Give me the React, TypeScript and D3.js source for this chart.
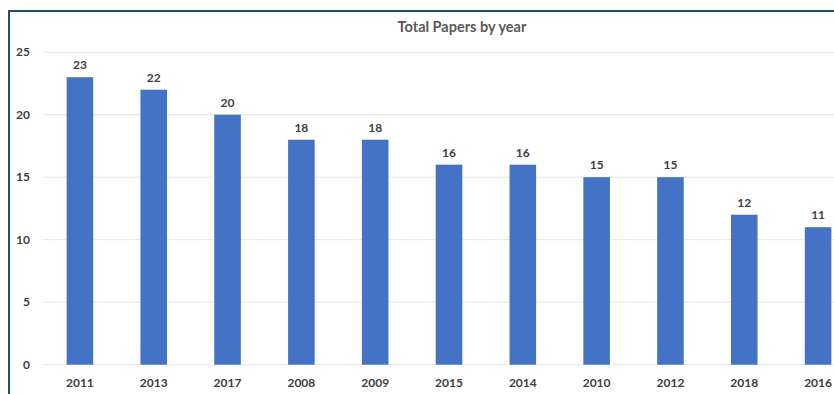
import React from "react";
import * as d3 from "d3";

const years = ["2011", "2013", "2017", "2008", "2009", "2015", "2014", "2010", "2012", "2018", "2016"];
const papers = [23, 22, 20, 18, 18, 16, 16, 15, 15, 12, 11];
const yTicks = [0, 5, 10, 15, 20, 25];
const title = "Total Papers by year";

export default function App() {
  const W = 834, H = 394;
  const x = d3.scaleBand<string>().domain(years).range([43, 855]).paddingInner(0.64).paddingOuter(0.32);
  const y = d3.scaleLinear().domain([0, 25]).range([364.7, 52.2]);
  const font = "Lato, 'Open Sans', sans-serif";
  return (
    <svg width={W} height={H} style={{ position: "fixed", left: 0, top: 0, background: "#fff" }}>
      <rect x={0} y={0} width={W} height={H} fill="#fff" />
      <line x1={9} x2={W} y1={11} y2={11} stroke="#1f4e79" strokeWidth={2} />
      <line x1={9} x2={9} y1={10} y2={H} stroke="#1f4e79" strokeWidth={2} />
      <text x={462} y={31.5} textAnchor="middle" fontFamily={font} fontSize={14.5} fontWeight={700} fill="#595959">{title}</text>
      {yTicks.map((t) => (
        <g key={t}>
          <line x1={43} x2={W} y1={y(t)} y2={y(t)} stroke="#e6e6e6" strokeWidth={1} />
          <text x={30} y={y(t) + 4} textAnchor="end" fontFamily={font} fontSize={12} fontWeight={700} fill="#404040">{t}</text>
        </g>
      ))}
      {years.map((yr, i) => (
        <g key={yr}>
          <rect x={x(yr)} y={y(papers[i])} width={x.bandwidth()} height={y(0) - y(papers[i])} fill="#4472c4" />
          <text x={(x(yr) as number) + x.bandwidth() / 2} y={y(papers[i]) - 8} textAnchor="middle" fontFamily={font} fontSize={12} fontWeight={700} fill="#404040">{papers[i]}</text>
          <text x={(x(yr) as number) + x.bandwidth() / 2} y={387} textAnchor="middle" fontFamily={font} fontSize={12} fontWeight={700} fill="#404040">{yr}</text>
        </g>
      ))}
    </svg>
  );
}
